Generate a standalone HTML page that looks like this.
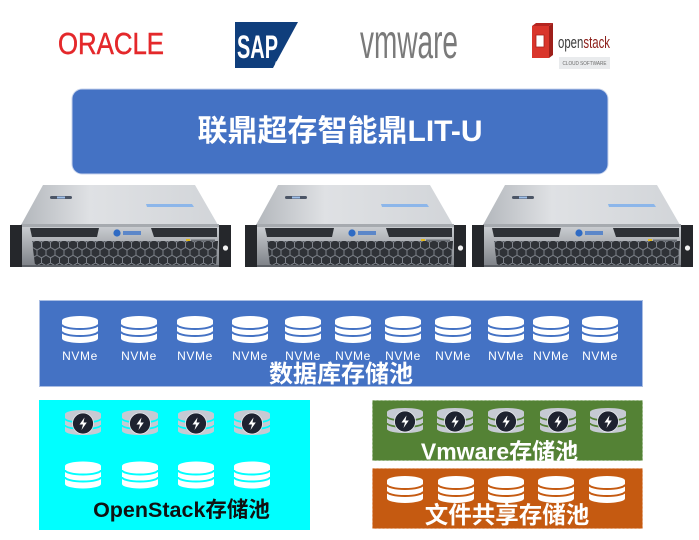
<!DOCTYPE html>
<html><head><meta charset="utf-8">
<style>
html,body{margin:0;padding:0;background:#fff;width:699px;height:540px;overflow:hidden}
svg{display:block}
text{font-family:"Liberation Sans","Noto Sans CJK SC",sans-serif}
</style></head><body>
<svg width="699" height="540" viewBox="0 0 699 540" xmlns="http://www.w3.org/2000/svg">
<defs>
 <linearGradient id="topg" x1="0" y1="0" x2="1" y2="0">
  <stop offset="0" stop-color="#b3b7bc"/><stop offset="0.35" stop-color="#dfe1e4"/><stop offset="1" stop-color="#d2d5d9"/>
 </linearGradient>
 <linearGradient id="frontg" x1="0" y1="0" x2="0" y2="1">
  <stop offset="0" stop-color="#c9ccd0"/><stop offset="1" stop-color="#7c8086"/>
 </linearGradient>
 <pattern id="hex" patternUnits="userSpaceOnUse" width="9" height="15.6">
  <rect width="9" height="15.6" fill="#2f3237"/>
  <path d="M0,2.6 L4.5,0 L9,2.6 L9,7.8 L4.5,10.4 L0,7.8 Z M4.5,10.4 L4.5,15.6" fill="none" stroke="#868b93" stroke-width="0.9"/>
 </pattern>
 <g id="server">
  <polygon points="33,0 185,0 208,40 11,40" fill="url(#topg)"/>
  <rect x="40" y="11" width="22" height="3" rx="1.5" fill="#4b5566"/>
  <rect x="47" y="11.5" width="8" height="2" fill="#9fc0ea"/>
  <polygon points="136,19 182,19 184,22 137,22" fill="#8cb6ea"/>
  <rect x="11" y="39" width="198" height="3" fill="#a6aaaf"/>
  <rect x="0" y="40" width="12" height="42" fill="#25272b"/>
  <rect x="209" y="40" width="12" height="42" fill="#25272b"/>
  <circle cx="215.5" cy="63" r="2.6" fill="#f2f2f2"/>
  <rect x="12" y="42" width="197" height="40" fill="url(#frontg)"/>
  <polygon points="20,43 89,43 87,52 22,52" fill="#2e3136"/>
  <polygon points="141,43 207,43 207,52 144,52" fill="#2e3136"/>
  <circle cx="107" cy="48" r="3.6" fill="#2f6bc4"/>
  <rect x="113" y="46" width="18" height="4" fill="#5c87c9"/>
  <rect x="176" y="54" width="4" height="4" fill="#e3b818"/>
  <rect x="181" y="54.5" width="24" height="3" fill="#6d7177"/>
  <polygon points="22,56 208,56 206,80 25,80" fill="url(#hex)"/>
  <rect x="12" y="80" width="197" height="2" fill="#5d6167"/>
 </g>
 <g id="cyl">
  <path d="M0,4.5 A18,4.5 0 0 1 36,4.5 L36,22.5 A18,4.5 0 0 1 0,22.5 Z" fill="#ffffff"/>
  <path d="M0,8.5 A18,4.5 0 0 0 36,8.5 M0,15.5 A18,4.5 0 0 0 36,15.5" fill="none" stroke="currentColor" stroke-width="2"/>
 </g>
 <g id="flash">
  <path d="M0,4 A18,4 0 0 1 36,4 L36,21 A18,4 0 0 1 0,21 Z" fill="#c6cad3"/>
  <path d="M0,8.5 A18,4 0 0 0 36,8.5 M0,15 A18,4 0 0 0 36,15" fill="none" stroke="currentColor" stroke-width="1.8"/>
  <circle cx="18" cy="13.5" r="10.5" fill="#1e2230" stroke="#e8eaee" stroke-width="0.8"/>
  <path d="M19.5,7.5 L14.5,14.5 L18,14.5 L16.5,20 L21.8,12.5 L18.5,12.5 Z" fill="#ffffff"/>
 </g>
</defs>

<!-- Logos -->
<text x="58" y="54" font-size="31" fill="#e4282b" stroke="#e4282b" stroke-width="0.5" textLength="106" lengthAdjust="spacingAndGlyphs">ORACLE</text>

<polygon points="235,22 298,22 273,68 235,68" fill="#0f3e7c"/>
<text x="237" y="58" font-size="32" font-weight="bold" fill="#ffffff" textLength="41" lengthAdjust="spacingAndGlyphs">SAP</text>
<text x="275" y="66" font-size="6" fill="#ffffff">®</text>

<text x="360" y="58" font-size="48" fill="#7a7a7a" textLength="98" lengthAdjust="spacingAndGlyphs">vmware</text>

<polygon points="532,26 536,23 553,23 549,26" fill="#b52520"/>
<rect x="532" y="26" width="17" height="32" fill="#d9352b"/>
<polygon points="549,26 553,23 553,55 549,58" fill="#9e1f1a"/>
<rect x="536" y="35" width="8" height="12" fill="#ffffff" stroke="#a82019" stroke-width="0.8"/>
<text x="558" y="48" font-size="17" fill="#3a3a3a" textLength="52" lengthAdjust="spacingAndGlyphs">open<tspan fill="#8c1d18">stack</tspan></text>
<rect x="559" y="57" width="51" height="12" fill="#e9ebed"/>
<text x="584.5" y="65" font-size="5.5" fill="#6b6b6b" text-anchor="middle" textLength="44" lengthAdjust="spacingAndGlyphs">CLOUD SOFTWARE</text>

<!-- Title box -->
<rect x="72" y="89" width="536" height="85" rx="10" fill="#4472c4" stroke="#c7d3ec" stroke-width="1"/>
<text x="340" y="141" font-size="30" font-weight="bold" fill="#ffffff" text-anchor="middle">联鼎超存智能鼎LIT-U</text>

<!-- Servers -->
<use href="#server" x="10" y="185"/>
<use href="#server" x="245" y="185"/>
<use href="#server" x="472" y="185"/>

<!-- Database pool -->
<rect x="39.5" y="300.5" width="603" height="86" fill="#4472c4" stroke="#a9bde3" stroke-width="1"/>
<g style="color:#4472c4">
 <use href="#cyl" x="62" y="316"/>
 <use href="#cyl" x="121" y="316"/>
 <use href="#cyl" x="177" y="316"/>
 <use href="#cyl" x="232" y="316"/>
 <use href="#cyl" x="285" y="316"/>
 <use href="#cyl" x="335" y="316"/>
 <use href="#cyl" x="385" y="316"/>
 <use href="#cyl" x="435" y="316"/>
 <use href="#cyl" x="488" y="316"/>
 <use href="#cyl" x="533" y="316"/>
 <use href="#cyl" x="582" y="316"/>
</g>
<g font-size="12" fill="#ffffff" text-anchor="middle" letter-spacing="0.6">
 <text x="80" y="360">NVMe</text>
 <text x="139" y="360">NVMe</text>
 <text x="195" y="360">NVMe</text>
 <text x="250" y="360">NVMe</text>
 <text x="303" y="360">NVMe</text>
 <text x="353" y="360">NVMe</text>
 <text x="403" y="360">NVMe</text>
 <text x="453" y="360">NVMe</text>
 <text x="506" y="360">NVMe</text>
 <text x="551" y="360">NVMe</text>
 <text x="600" y="360">NVMe</text>
</g>
<text x="341" y="382" font-size="24" font-weight="bold" fill="#ffffff" text-anchor="middle">数据库存储池</text>

<!-- OpenStack pool -->
<rect x="39" y="400" width="271" height="130" fill="#00ffff"/>
<g style="color:#00ffff">
 <use href="#flash" x="65" y="410"/>
 <use href="#flash" x="122" y="410"/>
 <use href="#flash" x="178" y="410"/>
 <use href="#flash" x="234" y="410"/>
 <use href="#cyl" x="65" y="461.5"/>
 <use href="#cyl" x="122" y="461.5"/>
 <use href="#cyl" x="178" y="461.5"/>
 <use href="#cyl" x="234" y="461.5"/>
</g>
<text x="181.5" y="517" font-size="21.5" font-weight="bold" fill="#111111" text-anchor="middle">OpenStack存储池</text>

<!-- Vmware pool -->
<rect x="372.5" y="400.5" width="270" height="60" fill="#548235" stroke="#8fb27a" stroke-width="1" stroke-dasharray="2,2"/>
<g style="color:#548235">
 <use href="#flash" x="387" y="408"/>
 <use href="#flash" x="437" y="408"/>
 <use href="#flash" x="488" y="408"/>
 <use href="#flash" x="540" y="408"/>
 <use href="#flash" x="590" y="408"/>
</g>
<text x="499.5" y="459.5" font-size="23" font-weight="bold" fill="#ffffff" text-anchor="middle">Vmware存储池</text>

<!-- File share pool -->
<rect x="372.5" y="468.5" width="270" height="60" fill="#c55a11" stroke="#e39a6a" stroke-width="1" stroke-dasharray="2,2"/>
<g style="color:#c55a11">
 <use href="#cyl" x="387" y="476"/>
 <use href="#cyl" x="438" y="476"/>
 <use href="#cyl" x="488" y="476"/>
 <use href="#cyl" x="538" y="476"/>
 <use href="#cyl" x="589" y="476"/>
</g>
<text x="507" y="523" font-size="23.5" font-weight="bold" fill="#ffffff" text-anchor="middle">文件共享存储池</text>
</svg>
</body></html>
